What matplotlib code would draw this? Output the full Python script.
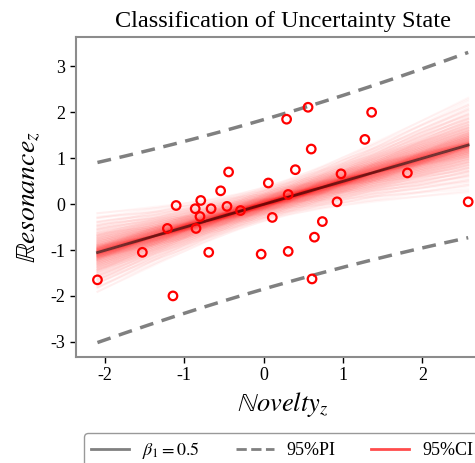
import matplotlib
matplotlib.use("Agg")
import matplotlib.pyplot as plt
import numpy as np
from matplotlib.lines import Line2D

plt.rcParams["font.family"] = ["Liberation Serif", "DejaVu Serif"]
plt.rcParams["mathtext.fontset"] = "stix"
plt.rcParams["axes.unicode_minus"] = False

# values
novelty_z = [-2.09, -1.525, -1.14, -1.21, -1.10, -0.86, -0.79, -0.80, -0.85,
             -0.66, -0.69, -0.54, -0.44, -0.46, -0.29, -0.03, 0.06, 0.11,
             0.31, 0.31, 0.40, 0.29, 0.56, 0.60, 0.975, 0.925, 0.74, 0.64,
             0.61, 1.275, 1.36, 1.81, 2.575]
resonance_z = [-1.65, -1.05, -2.00, -0.53, -0.03, -0.10, 0.08, -0.27, -0.53,
               -0.10, -1.05, 0.29, 0.70, -0.05, -0.14, -1.09, 0.46, -0.29,
               0.21, -1.03, 0.75, 1.85, 2.11, 1.20, 0.66, 0.05, -0.38, -0.72,
               -1.63, 1.41, 2.00, 0.68, 0.05]
beta_1 = 0.5
# radii (in standard errors) of the fan of confidence lines
ci_radius = [0.1, 0.2, 0.3, 0.4, 0.5, 0.62, 0.75, 0.9, 1.05, 1.2, 1.4,
             1.6, 1.85, 2.1, 2.4]
t_975 = 2.04

x = np.array(novelty_z)
y = np.array(resonance_z)
n = len(x)
slope, intercept = np.polyfit(x, y, 1)
resid = y - (intercept + slope * x)
s = np.sqrt(np.sum(resid ** 2) / (n - 2))
sxx = np.sum((x - x.mean()) ** 2)
se_a = s / np.sqrt(n)
se_b = s / np.sqrt(sxx)

xs = np.linspace(x.min(), x.max(), 200)
fit = intercept + slope * xs
se_pred = s * np.sqrt(1 + 1 / n + (xs - x.mean()) ** 2 / sxx)

fig = plt.figure(figsize=(4.75, 4.63), dpi=100)
ax = fig.add_axes([0.16, 0.229, 0.87, 0.691])

angles = np.linspace(0, 2 * np.pi, 20, endpoint=False)
for r in ci_radius:
    for th in angles:
        line = fit + r * np.cos(th) * se_a + r * np.sin(th) * se_b * (xs - x.mean())
        ax.plot(xs, line, color="red", alpha=0.03, linewidth=1.5)

ax.plot(xs, fit, color="black", alpha=0.55, linewidth=2)
ax.plot(xs, fit + t_975 * se_pred, color="gray", linestyle="--",
        linewidth=2.5, dashes=(4, 2.5))
ax.plot(xs, fit - t_975 * se_pred, color="gray", linestyle="--",
        linewidth=2.5, dashes=(4, 2.5))
ax.scatter(x, y, s=38, facecolors="none", edgecolors="red",
           linewidths=1.6, zorder=5)

ax.set_xlim(-2.36, 2.84)
ax.set_ylim(-3.33, 3.64)
ax.set_xticks([-2, -1, 0, 1, 2])
ax.set_yticks([-3, -2, -1, 0, 1, 2, 3])
ax.tick_params(labelsize=13, length=4, width=1, direction="out")
for sp in ax.spines.values():
    sp.set_color("#8c8c8c")
    sp.set_linewidth(1.5)

ax.set_title("Classification of Uncertainty State", fontsize=17.5, pad=7)
ax.set_xlabel(r"$\mathbb{N}ovelty_z$", fontsize=19, labelpad=4)
ax.set_ylabel(r"$\mathbb{R}esonance_z$", fontsize=20, labelpad=6)

handles = [
    Line2D([], [], color="gray", linewidth=2),
    Line2D([], [], color="gray", linewidth=2, linestyle="--"),
    Line2D([], [], color="red", alpha=0.7, linewidth=2),
]
labels = [r"$\beta_1 = %.1f$" % beta_1, "95%PI", "95%CI"]
fig.legend(handles, labels, loc="upper left",
           bbox_to_anchor=(84 / 475, 1 - 433 / 463), ncol=3,
           fontsize=13, frameon=True, edgecolor="gray",
           handlelength=2.1, handletextpad=0.7, columnspacing=2.0,
           borderaxespad=0)

fig.savefig("out.png", dpi=100)
